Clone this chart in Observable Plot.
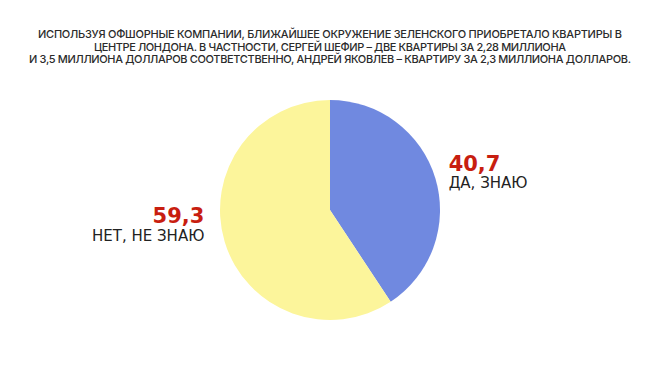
<!DOCTYPE html>
<html><head><meta charset="utf-8">
<script src="https://cdn.jsdelivr.net/npm/d3@7"></script>
<script src="https://cdn.jsdelivr.net/npm/@observablehq/plot@0.6"></script>
<style>
html,body{margin:0;padding:0;background:#fff;}
#wrap{position:relative;width:660px;height:368px;overflow:hidden;background:#fff;}
#title{position:absolute;left:0;top:0;}
#chart{position:absolute;left:0;top:76px;}
</style></head><body>
<div id="wrap"><div id="title"></div><div id="chart"></div></div>
<script>
const categories = ["ДА, ЗНАЮ", "НЕТ, НЕ ЗНАЮ"];
const values = [40.7, 59.3];
const valueLabels = ["40,7", "59,3"];
const colors = ["#7089e0", "#fcf59b"];
const titleLines = [
  "ИСПОЛЬЗУЯ ОФШОРНЫЕ КОМПАНИИ, БЛИЖАЙШЕЕ ОКРУЖЕНИЕ ЗЕЛЕНСКОГО ПРИОБРЕТАЛО КВАРТИРЫ В",
  "ЦЕНТРЕ ЛОНДОНА. В ЧАСТНОСТИ, СЕРГЕЙ ШЕФИР – ДВЕ КВАРТИРЫ ЗА 2,28 МИЛЛИОНА",
  "И 3,5 МИЛЛИОНА ДОЛЛАРОВ СООТВЕТСТВЕННО, АНДРЕЙ ЯКОВЛЕВ – КВАРТИРУ ЗА 2,3 МИЛЛИОНА ДОЛЛАРОВ."
];

// Title (HTML-level SVG, above the plot)
const titleWidths = [584, 472, 602];
const titleBaselines = [37.5, 50.5, 63];
const tsvg = d3.create("svg").attr("width", 660).attr("height", 76);
tsvg.selectAll("text").data(titleLines).join("text")
  .attr("x", 330).attr("y", (d, i) => titleBaselines[i])
  .attr("text-anchor", "middle")
  .attr("textLength", (d, i) => titleWidths[i])
  .attr("lengthAdjust", "spacing")
  .attr("font-family", "Inter, 'Open Sans', sans-serif")
  .attr("font-weight", 500)
  .attr("font-size", 11)
  .attr("fill", "#2b2b2b")
  .text(d => d);
document.getElementById("title").appendChild(tsvg.node());

// Pie data
const data = categories.map((c, i) => ({category: c, value: values[i], label: valueLabels[i], color: colors[i]}));
const arcs = d3.pie().sort(null).value(d => d.value)(data);
const slices = arcs.map(a => {
  const mid = (a.startAngle + a.endAngle) / 2;
  return {...a.data, startAngle: a.startAngle, endAngle: a.endAngle,
    lx: 1.15 * Math.sin(mid), ly: 1.15 * Math.cos(mid)};
});

function pieMark(index, scales) {
  const cx = scales.x(0), cy = scales.y(0), r = scales.x(1) - scales.x(0);
  const arc = d3.arc().innerRadius(0).outerRadius(r);
  const g = d3.create("svg:g").attr("transform", `translate(${cx},${cy})`);
  g.selectAll("path").data(slices).join("path")
    .attr("d", arc).attr("fill", d => d.color);
  return g.node();
}

const right = d => d.lx > 0;
const left = d => d.lx < 0;
const numStyle = {fontSize: 21, fontWeight: 700, fill: "#c81e10", lineAnchor: "bottom", fontFamily: "'DejaVu Sans', Inter, sans-serif"};
const labStyle = {fontSize: 15, fontWeight: 400, fill: "#222", lineAnchor: "bottom", fontFamily: "'DejaVu Sans', Inter, sans-serif"};

const chart = Plot.plot({
  width: 660,
  height: 292,
  margin: 0,
  x: {domain: [-1, 1], range: [220, 440], axis: null},
  y: {domain: [-1, 1], range: [244, 24], axis: null},
  style: {fontFamily: "Inter, 'Open Sans', sans-serif", background: "#fff"},
  marks: [
    pieMark,
    Plot.text(slices, {filter: right, x: "lx", y: "ly", text: "label", textAnchor: "start", dx: -3, dy: -3, ...numStyle}),
    Plot.text(slices, {filter: right, x: "lx", y: "ly", text: "category", textAnchor: "start", dx: -3, dy: 14, ...labStyle}),
    Plot.text(slices, {filter: left, x: "lx", y: "ly", text: "label", textAnchor: "end", dx: -5, dy: -24, ...numStyle}),
    Plot.text(slices, {filter: left, x: "lx", y: "ly", text: "category", textAnchor: "end", dx: -5, dy: -5.5, ...labStyle})
  ]
});
document.getElementById("chart").appendChild(chart);
</script>
</body></html>
